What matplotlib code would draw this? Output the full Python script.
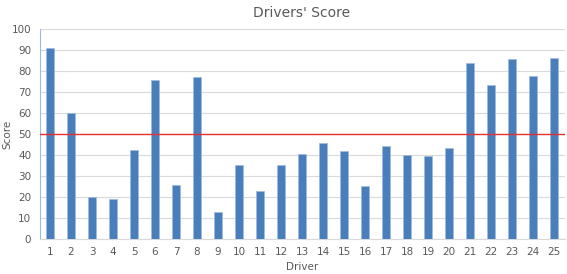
import matplotlib.pyplot as plt

# Driver scores
drivers = list(range(1, 26))
scores = [91, 60, 20, 19, 42.5, 75.5, 25.5, 77, 13, 35,
          23, 35, 40.5, 45.5, 42, 25, 44.5, 40, 39.5, 43.5,
          84, 73.5, 85.5, 77.5, 86]
threshold = 50

fig = plt.figure(figsize=(5.67, 2.74), dpi=100)
ax = fig.add_axes([0.0697, 0.128, 0.926, 0.766])

ax.bar(drivers, scores, width=0.4, color='#4a7ebb', edgecolor='#9dbbe0', linewidth=0.5, zorder=3)
ax.axhline(threshold, color='#e8302f', linewidth=1.0, zorder=4)

ax.set_xlim(0.5, 25.5)
ax.set_ylim(0, 100)
ax.set_yticks(range(0, 101, 10))
ax.set_xticks(drivers)
ax.yaxis.grid(True, color='#d9d9d9', linewidth=0.8, zorder=0)

for s in ['top', 'right']:
    ax.spines[s].set_visible(False)
ax.spines['left'].set_color('#9dbbe0')
ax.spines['bottom'].set_color('#d9d9d9')
ax.tick_params(length=0, labelsize=7.5, colors='#595959', pad=6)

ax.set_title("Drivers' Score", fontsize=10, color='#595959', pad=9)
ax.set_xlabel('Driver', fontsize=7.5, color='#595959')
ax.set_ylabel('Score', fontsize=7.5, color='#595959')
ax.xaxis.set_label_coords(0.5, -0.11)
ax.yaxis.set_label_coords(-0.052, 0.5)

plt.savefig('out.png', dpi=100)
